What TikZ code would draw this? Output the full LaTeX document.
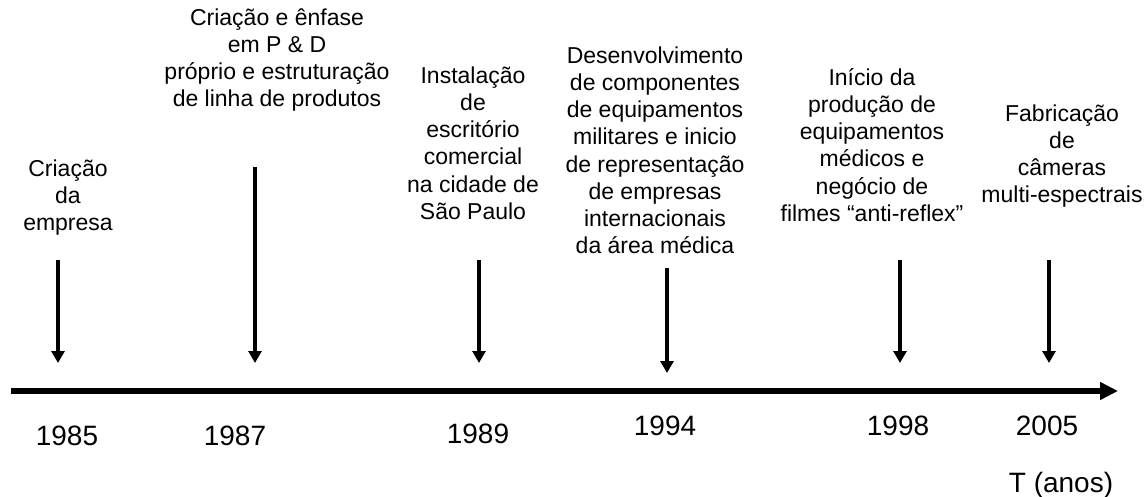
\documentclass[tikz,border=0pt]{standalone}
\usepackage{fontspec}
\setmainfont{Liberation Sans}
\usetikzlibrary{arrows.meta}
\newcommand\firstline{\rule{0pt}{20pt}}
\begin{document}
\begin{tikzpicture}[x=1pt,y=-1pt,
  evtext/.style={align=center,anchor=north,inner sep=0pt,font=\fontsize{23}{27.2}\selectfont},
  year/.style={inner sep=0pt,anchor=base,font=\fontsize{28}{31}\selectfont},
  evarrow/.style={line width=4pt,-{Triangle[length=12pt,width=13pt]}},
  axis/.style={line width=6pt,-{Triangle[length=18pt,width=17pt]}}]
\useasboundingbox (0,0) rectangle (1147,497);
% axis
\coordinate (ax0) at (11,391);
\coordinate (ax1) at (1118,391);
\draw[axis] (ax0) -- (ax1);
% event texts (y = first line centre - 12)
\node[evtext] (t1) at (68,156) {\firstline Criação\\da\\empresa};
\node[evtext] (t2) at (277,5) {\firstline Criação e ênfase\\em P \& D\\próprio e estruturação\\de linha de produtos};
\node[evtext] (t3) at (473,63) {\firstline Instalação\\de\\escritório\\comercial\\na cidade de\\São Paulo};
\node[evtext] (t4) at (655,43) {\firstline Desenvolvimento\\de componentes\\de equipamentos\\militares e inicio\\de representação\\de empresas\\internacionais\\da área médica};
\node[evtext] (t5) at (872,65) {\firstline Início da\\produção de\\equipamentos\\médicos e\\negócio de\\filmes “anti-reflex”};
\node[evtext] (t6) at (1062,101) {\firstline Fabricação\\de\\câmeras\\multi-espectrais};
% arrows
\coordinate (a1s) at (58,260); \coordinate (a1e) at (58,363);
\coordinate (a2s) at (255,167); \coordinate (a2e) at (255,363);
\coordinate (a3s) at (479,260); \coordinate (a3e) at (479,363);
\coordinate (a4s) at (667,268); \coordinate (a4e) at (667,373);
\coordinate (a5s) at (900,260); \coordinate (a5e) at (900,363);
\coordinate (a6s) at (1049,260); \coordinate (a6e) at (1049,363);
\draw[evarrow] (a1s) -- (a1e);
\draw[evarrow] (a2s) -- (a2e);
\draw[evarrow] (a3s) -- (a3e);
\draw[evarrow] (a4s) -- (a4e);
\draw[evarrow] (a5s) -- (a5e);
\draw[evarrow] (a6s) -- (a6e);
% years (y = visual centre + 10)
\node[year] (y1) at (67,445) {1985};
\node[year] (y2) at (235,445) {1987};
\node[year] (y3) at (478,443) {1989};
\node[year] (y4) at (665,435) {1994};
\node[year] (y5) at (898,435) {1998};
\node[year] (y6) at (1047,435) {2005};
\node[year] (T) at (1061,492) {T (anos)};
\end{tikzpicture}
\end{document}
